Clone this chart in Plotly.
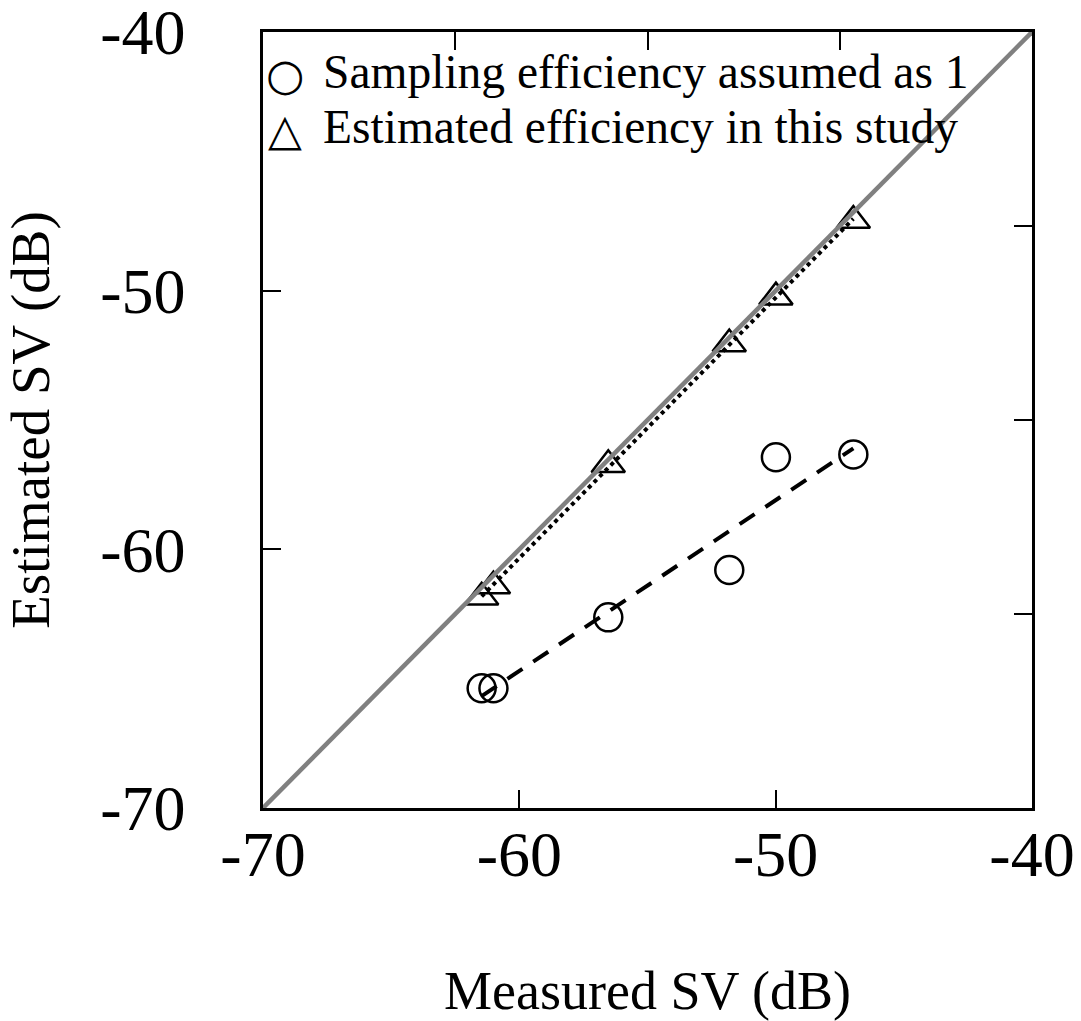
import numpy as np
import plotly.graph_objects as go

# Measured vs. estimated volume backscattering strength (dB)
measured_sv = [-61.47, -61.01, -56.53, -51.81, -49.99, -46.97]
estimated_sv_unit_eff = [-65.37, -65.37, -62.63, -60.80, -56.44, -56.33]
estimated_sv_study_eff = [-61.85, -61.42, -56.73, -52.06, -50.25, -47.29]

axis_range = [-70, -40]
tick_vals = [-70, -60, -50, -40]
tick_text = ["-70", "-60", "-50", "-40"]
mirror_tick_vals = [-62.5, -55, -47.5]
legend_labels = ["Sampling efficiency assumed as 1",
                 "Estimated efficiency in this study"]
legend_glyphs = ["\u25cb", "\u25b3"]

FONT = "Liberation Serif, Times New Roman, serif"


def fit_line(x, y):
    slope, intercept = np.polyfit(x, y, 1)
    xs = np.array([min(x), max(x)])
    return xs, slope * xs + intercept


fig = go.Figure()

# 1:1 reference line (placed on the mirrored top/right axes so they draw)
fig.add_trace(go.Scatter(
    x=axis_range, y=axis_range, mode="lines", xaxis="x2", yaxis="y2",
    line=dict(color="#808080", width=4.5), hoverinfo="skip"))

# regression lines
fx, fy = fit_line(measured_sv, estimated_sv_unit_eff)
fig.add_trace(go.Scatter(x=fx, y=fy, mode="lines",
                         line=dict(color="black", width=4, dash="18px,13px")))
gx, gy = fit_line(measured_sv, estimated_sv_study_eff)
fig.add_trace(go.Scatter(x=gx, y=gy, mode="lines",
                         line=dict(color="black", width=4, dash="dot")))

# data points
fig.add_trace(go.Scatter(
    x=measured_sv, y=estimated_sv_unit_eff, mode="markers",
    name=legend_labels[0],
    marker=dict(symbol="circle-open", size=28, color="black",
                line=dict(width=2.5, color="black"))))
fig.add_trace(go.Scatter(
    x=measured_sv, y=estimated_sv_study_eff, mode="markers",
    name=legend_labels[1],
    marker=dict(symbol="triangle-up-open", size=29, color="black",
                line=dict(width=2.5, color="black"))))

# legend block drawn as text in the upper-left corner
for i, (glyph, label) in enumerate(zip(legend_glyphs, legend_labels)):
    yshift = -42 - 55 * i
    fig.add_annotation(xref="paper", yref="paper", x=0, y=1,
                       xanchor="center", yanchor="middle",
                       xshift=22, yshift=yshift, showarrow=False,
                       text=glyph,
                       font=dict(family="DejaVu Sans", size=44, color="black"))
    fig.add_annotation(xref="paper", yref="paper", x=0, y=1,
                       xanchor="left", yanchor="middle",
                       xshift=58, yshift=yshift + 2, showarrow=False,
                       text=label,
                       font=dict(family=FONT, size=47.5, color="black"))

common_axis = dict(range=axis_range, showgrid=False, zeroline=False,
                   automargin=False,
                   showline=True, linecolor="black", linewidth=2.5,
                   ticks="inside", ticklen=18, tickwidth=2, tickcolor="black")

fig.update_layout(
    template="none",
    width=1081, height=1021,
    margin=dict(l=263, r=49, t=32, b=213),
    paper_bgcolor="white", plot_bgcolor="white",
    showlegend=False,
    font=dict(family=FONT, color="black"),
    xaxis=dict(**common_axis, tickvals=tick_vals, ticktext=tick_text,
               tickfont=dict(size=64), ticklabelstandoff=-12,
               ticklabeloverflow="allow",
               title=dict(text="Measured SV (dB)", font=dict(size=54),
                          standoff=92)),
    yaxis=dict(**common_axis, tickvals=tick_vals, ticktext=tick_text,
               tickfont=dict(size=64), ticklabelstandoff=62,
               ticklabeloverflow="allow",
               title=dict(text="Estimated SV (dB)", font=dict(size=55),
                          standoff=40)),
    xaxis2=dict(**common_axis, overlaying="x", side="top",
                tickvals=mirror_tick_vals, showticklabels=False),
    yaxis2=dict(**common_axis, overlaying="y", side="right",
                tickvals=mirror_tick_vals, showticklabels=False),
)

fig.write_html("out.html")
